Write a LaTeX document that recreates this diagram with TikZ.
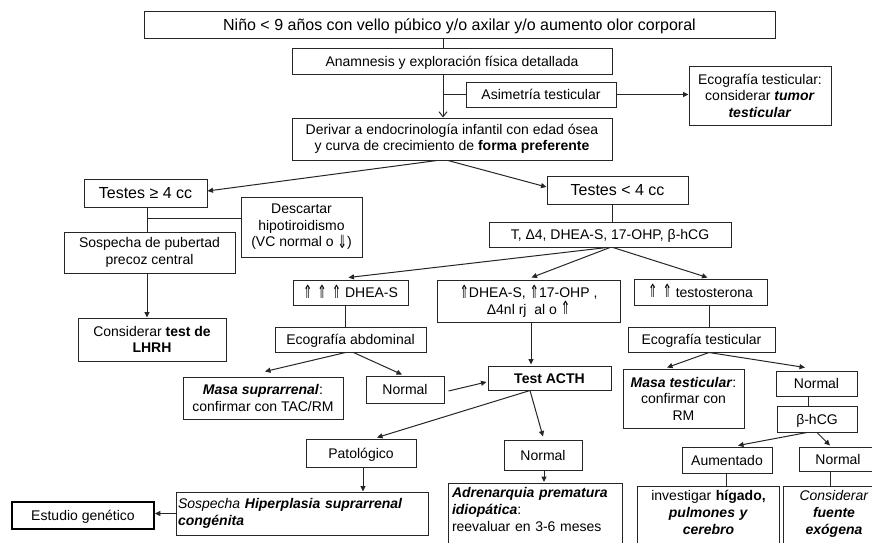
\documentclass[tikz,border=0pt]{standalone}
\usepackage{fontspec}
\usepackage{graphicx}
\setmainfont{Liberation Sans}
\newfontfamily\symfont{DejaVu Sans}
\usetikzlibrary{arrows.meta}
% narrow, tall double arrows
\newcommand{\uparr}{\raisebox{-0.5pt}{\scalebox{0.8}[1.3]{\symfont ⇑}}}
\newcommand{\dnarr}{\raisebox{-1.5pt}{\scalebox{0.8}[1.3]{\symfont ⇓}}}

\tikzset{
  box/.style={draw=black!85, line width=1pt, inner sep=2pt, align=center,
    font=\fontsize{14}{16.5}\selectfont},
  one/.style={text height=11pt, text depth=1pt},
  big/.style={font=\fontsize{16}{19}\selectfont, text height=12.5pt, text depth=1.5pt},
  opentext/.style={anchor=north, inner xsep=2pt, inner ysep=4.5pt, align=center,
    font=\fontsize{14}{17}\selectfont},
  boxline/.style={draw=black!85, line width=1pt},
  conn/.style={draw=black!85, line width=1pt},
  arr/.style={conn, -{Triangle[length=5.5pt,width=5pt]}},
  openarr/.style={conn, -{Straight Barb[length=5pt,width=8pt]}},
}

\begin{document}
\begin{tikzpicture}[x=1pt,y=-1pt]
\useasboundingbox (0,0) rectangle (872,542);
\clip (0,0) rectangle (872,542);
\fill[white] (0,0) rectangle (872,542);

% ---- boxes ----
\node[box, big, minimum width=631pt, minimum height=27pt] (top) at (459.5,24.5)
  {Niño < 9 años con vello púbico y/o axilar y/o aumento olor corporal};
\node[box, one, minimum width=320pt, minimum height=26pt] (anam) at (452,61)
  {Anamnesis y exploración física detallada};
\node[box, one, minimum width=150pt, minimum height=25pt] (asim) at (541,94.5)
  {Asimetría testicular};
\node[box, minimum width=142pt, minimum height=59pt] (ecot1) at (760,95.5)
  {Ecografía testicular:\\ considerar \textbf{\textit{tumor}}\\ \textbf{\textit{testicular}}};
\node[box, minimum width=320pt, minimum height=42pt] (deriv) at (452,139)
  {Derivar a endocrinología infantil con edad ósea\\ y curva de crecimiento de \textbf{forma preferente}};
\node[box, big, minimum width=123pt, minimum height=28pt] (tge4) at (145.5,193)
  {Testes ≥ 4 cc};
\node[box, big, minimum width=141pt, minimum height=28pt] (tlt4) at (617.5,190)
  {Testes < 4 cc};
\node[box, minimum width=121pt, minimum height=60pt] (desc) at (301.5,227)
  {Descartar\\ hipotiroidismo\\ (VC normal o \dnarr)};
\node[box, minimum width=171pt, minimum height=41pt] (sosp) at (149.5,252.5)
  {Sospecha de pubertad\\ precoz central};
\node[box, minimum width=148pt, minimum height=43pt] (lhrh) at (152,339.5)
  {Considerar \textbf{test de}\\ \textbf{LHRH}};
\node[box, one, minimum width=242pt, minimum height=25pt] (tbox) at (610,234.5)
  {T, Δ4, DHEA-S, 17-OHP, β-hCG};
\node[box, one, minimum width=115pt, minimum height=25pt] (dheas) at (350.5,292.5)
  {\uparr\hspace{5pt}\uparr\hspace{5pt}\uparr\ DHEA-S};
\node[box, minimum width=183pt, minimum height=42pt] (mid) at (528.5,301)
  {\uparr DHEA-S, \uparr17-OHP ,\\ Δ4nl rj\ \ al o \uparr};
\node[box, one, minimum width=133pt, minimum height=26pt] (testo) at (700.5,292)
  {\uparr\hspace{5pt}\uparr\ testosterona};
\node[box, one, minimum width=151pt, minimum height=25pt] (ecoabd) at (350.5,339.5)
  {Ecografía abdominal};
\node[box, one, minimum width=147pt, minimum height=25pt] (ecot2) at (701.5,339.5)
  {Ecografía testicular};
\node[box, one, minimum width=123pt, minimum height=24pt] (acth) at (549.5,378)
  {\textbf{Test ACTH}};
\node[box, minimum width=160pt, minimum height=42pt] (masasup) at (263,398)
  {\textbf{\textit{Masa suprarrenal}}:\\ confirmar con TAC/RM};
\node[box, one, minimum width=78pt, minimum height=27pt] (norm1) at (405,389.5)
  {Normal};
\node[box, one, minimum width=110pt, minimum height=28pt] (patol) at (361,453)
  {Patológico};
\node[box, align=left, text width=248pt, inner xsep=2pt, minimum height=43pt] (hsc) at (302,513.5)
  {\textit{Sospecha} \textbf{\textit{Hiperplasia suprarrenal}}\\ \textbf{\textit{congénita}}};
\node[box, one, draw=black, line width=1.7pt, minimum width=142pt, minimum height=27pt] (estud) at (83,515.5)
  {Estudio genético};
\node[box, one, minimum width=78pt, minimum height=30pt] (norm2) at (543,455)
  {Normal};
\node[box, minimum width=121pt, minimum height=59pt] (masatest) at (683.5,398.5)
  {\textbf{\textit{Masa testicular}}:\\ confirmar con\\ RM};
\node[box, one, minimum width=81pt, minimum height=25pt] (norm3) at (816.5,383.5)
  {Normal};
\node[box, one, minimum width=80pt, minimum height=26pt] (bhcg) at (817,419)
  {β-hCG};
\node[box, one, minimum width=90pt, minimum height=26pt] (aument) at (727,460)
  {Aumentado};
\node[box, one, minimum width=78pt, minimum height=24pt] (norm4) at (838,459)
  {Normal};

% boxes running off the lower edge
\node[opentext, align=left, text width=167pt, inner xsep=3pt] (adren) at (535.5,483)
  {\textbf{\textit{Adrenarquia prematura}}\\ \textbf{\textit{idiopática}}:\\ reevaluar en 3-6 meses};
\node[opentext, text width=137pt] (invest) at (708.5,486)
  {investigar \textbf{hígado,}\\ \textbf{\textit{pulmones y}}\\ \textbf{\textit{cerebro}}};
\node[opentext, minimum width=100pt] (consid) at (834,486)
  {\textit{Considerar}\\ \textbf{\textit{fuente}}\\ \textbf{\textit{exógena}}};
\foreach \b in {adren,invest,consid}
  \draw[boxline] (\b.north west) ++(0,80) -- (\b.north west) -- (\b.north east) -- ++(0,80);

% ---- connectors ----
\coordinate (sp) at (443,0);
\draw[conn] (sp |- top.south) -- (sp |- anam.north);
\draw[openarr] (sp |- anam.south) -- (sp |- deriv.north);
\draw[conn] (sp |- asim.west) -- (asim.west);
\draw[arr] (asim.east) -- (asim.east -| ecot1.west);
\draw[arr] ([xshift=-15pt]deriv.south) -- ([yshift=2pt]tge4.east);
\draw[arr] ([xshift=-4pt]deriv.south) -- ([yshift=3pt]tlt4.west);

\coordinate (lsp) at (147,0);
\draw[conn] (lsp |- tge4.south) -- (lsp |- sosp.north);
\coordinate (j1) at (147,218);
\draw[conn] (j1) -- (j1 -| desc.west);
\draw[arr] (lsp |- sosp.south) -- (lsp |- lhrh.north);

\coordinate (tsp) at (612,0);
\draw[conn] (tsp |- tlt4.south) -- (tsp |- tbox.north);
\draw[arr] ([xshift=-3pt]tbox.south) -- ([xshift=-2pt,yshift=2pt]dheas.north);
\draw[arr] (tbox.south) -- ([xshift=3pt,yshift=2pt]mid.north);
\draw[arr] ([xshift=3pt]tbox.south) -- ([xshift=7pt,yshift=1pt]testo.north);

\draw[conn] ([xshift=-5pt]dheas.south) -- ([xshift=-5pt]ecoabd.north);
\coordinate (rsp) at (709,0);
\draw[conn] (rsp |- testo.south) -- (rsp |- ecot2.north);
\coordinate (msp) at (531,0);
\draw[arr] (msp |- mid.south) -- ([yshift=1pt]msp |- acth.north);

\draw[arr] ([xshift=-5pt]ecoabd.south) -- ([xshift=2pt,yshift=5pt]masasup.north);
\draw[arr] ([xshift=3pt]ecoabd.south) -- ([xshift=-3pt,yshift=1pt]norm1.north);
\draw[arr] ([xshift=4pt,yshift=-1.5pt]norm1.east) -- ([xshift=-1pt,yshift=-4pt]acth.west);

\draw[arr] ([xshift=-19.5pt]acth.south) -- ([xshift=16pt,yshift=1pt]patol.north);
\draw[arr] ([xshift=-19.5pt]acth.south) -- ([yshift=3pt]norm2.north);
\draw[arr] ([xshift=2pt]patol.south) -- ([xshift=2pt]patol.south |- hsc.north);
\draw[arr] (hsc.west) -- (hsc.west -| estud.east);
\coordinate (nsp) at (544,0);
\draw[arr] (nsp |- norm2.south) -- ([yshift=1pt]nsp |- adren.north);

\draw[arr] (rsp |- ecot2.south) -- ([xshift=-16.5pt,yshift=1pt]masatest.north);
\draw[arr] (rsp |- ecot2.south) -- ([xshift=-11.5pt,yshift=3pt]norm3.north);
\coordinate (bsp) at (808,0);
\draw[conn] (bsp |- norm3.south) -- (bsp |- bhcg.north);
\draw[arr] ([xshift=-10pt]bhcg.south) -- ([xshift=11pt,yshift=1pt]aument.north);
\draw[arr] (bhcg.south) -- ([xshift=-8pt,yshift=1pt]norm4.north);
\coordinate (asp) at (726,0);
\draw[conn] (asp |- aument.south) -- (asp |- invest.north);
\coordinate (csp) at (830,0);
\draw[conn] (csp |- norm4.south) -- (csp |- consid.north);
\end{tikzpicture}
\end{document}
